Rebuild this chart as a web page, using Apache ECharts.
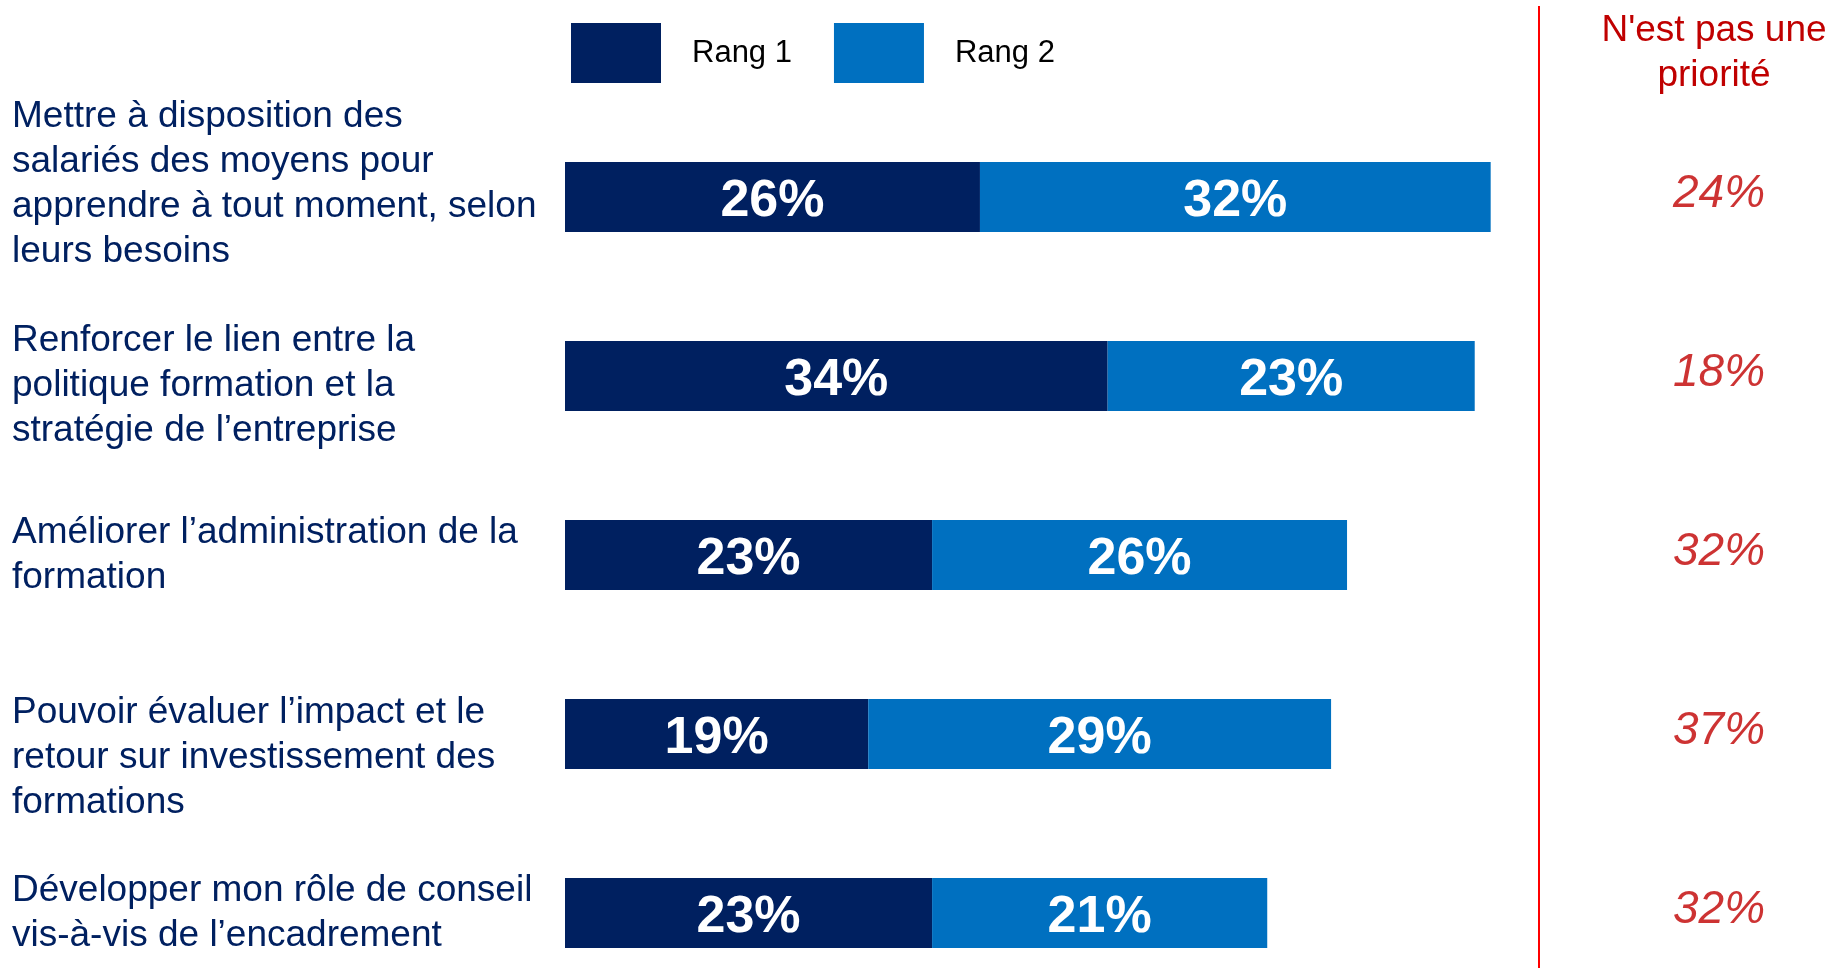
<!DOCTYPE html>
<html>
<head>
<meta charset="utf-8">
<script src="https://cdn.jsdelivr.net/npm/echarts@6/dist/echarts.min.js"></script>
<style>
html,body{margin:0;padding:0;background:#fff;}
#chart{width:1831px;height:968px;}
</style>
</head>
<body>
<div id="chart"></div>
<script>
// ---- data ----
const categories = [
  "Mettre à disposition des\nsalariés des moyens pour\napprendre à tout moment, selon\nleurs besoins",
  "Renforcer le lien entre la\npolitique formation et la\nstratégie de l’entreprise",
  "Améliorer l’administration de la\nformation",
  "Pouvoir évaluer l’impact et le\nretour sur investissement des\nformations",
  "Développer mon rôle de conseil\nvis-à-vis de l’encadrement"
];
const rang1 = [26, 34, 23, 19, 23];
const rang2 = [32, 23, 26, 29, 21];
const notPriority = [24, 18, 32, 37, 32];
const seriesNames = ["Rang 1", "Rang 2"];
const headerText = "N'est pas une\npriorité";

// ---- style ----
const NAVY = '#002060';
const BLUE = '#0070C0';
const RED = '#C00000';
const FONT = '"Liberation Sans", Arial, sans-serif';
// vertical nudge of each category label (spacer line height, + = push down, - = push up)
const labelNudge = [-26, 20, 0, 48, 0];

const chart = echarts.init(document.getElementById('chart'), null, {renderer: 'canvas'});

const gridTop = 107.5, gridH = 895;

function catLabel(value, idx) {
  const lines = value.split('\n').map(l => '{a|' + l + '}');
  const n = labelNudge[idx] || 0;
  if (n > 0) lines.unshift('{s' + n + '| }');
  else if (n < 0) lines.push('{s' + (-n) + '| }');
  return lines.join('\n');
}
const rich = {a: {fontSize: 37, lineHeight: 45, color: NAVY, fontFamily: FONT, align: 'left'}};
labelNudge.forEach(n => { if (n) rich['s' + Math.abs(n)] = {fontSize: 1, lineHeight: Math.abs(n)}; });

const option = {
  animation: false,
  textStyle: {fontFamily: FONT},
  title: {
    text: headerText,
    left: 1709, top: 3,
    textAlign: 'center',
    textStyle: {color: RED, fontSize: 37, lineHeight: 45, fontWeight: 'normal', fontFamily: FONT}
  },
  legend: {
    data: seriesNames,
    left: 571, top: 23,
    icon: 'rect',
    itemWidth: 90, itemHeight: 60,
    itemGap: 42,
    padding: 0,
    textStyle: {fontSize: 31, color: '#000', fontFamily: FONT, padding: [10,0,0,26]}
  },
  grid: [
    {left: 565, top: gridTop, width: 957.6, height: gridH, containLabel: false, outerBoundsMode: 'none'},
    {left: 1600, top: gridTop, width: 238, height: gridH, containLabel: false, outerBoundsMode: 'none'}
  ],
  xAxis: [
    {gridIndex: 0, type: 'value', min: 0, max: 60, show: false},
    {gridIndex: 1, type: 'value', min: 0, max: 1, show: false}
  ],
  yAxis: [
    {
      gridIndex: 0, type: 'category', inverse: true,
      data: categories,
      axisLine: {show: false}, axisTick: {show: false}, splitLine: {show: false},
      axisLabel: {
        interval: 0, hideOverlap: false,
        align: 'left', margin: 553,
        formatter: catLabel,
        rich: rich,
        fontSize: 37, lineHeight: 45, color: NAVY, fontFamily: FONT
      }
    },
    {
      gridIndex: 1, type: 'category', inverse: true, data: categories, show: false
    }
  ],
  graphic: [{
    type: 'line',
    shape: {x1: 1539, y1: 6, x2: 1539, y2: 968},
    style: {stroke: '#FF0000', lineWidth: 2}
  }],
  series: [
    {
      name: seriesNames[0], type: 'bar', stack: 'r', barWidth: 70,
      xAxisIndex: 0, yAxisIndex: 0,
      data: rang1,
      itemStyle: {color: NAVY},
      label: {show: true, position: 'inside', offset: [0, 5], formatter: '{c}%', color: '#fff',
              fontSize: 52, fontWeight: 'bold', fontFamily: FONT}
    },
    {
      name: seriesNames[1], type: 'bar', stack: 'r', barWidth: 70,
      xAxisIndex: 0, yAxisIndex: 0,
      data: rang2,
      itemStyle: {color: BLUE},
      label: {show: true, position: 'inside', offset: [0, 5], formatter: '{c}%', color: '#fff',
              fontSize: 52, fontWeight: 'bold', fontFamily: FONT}
    },
    {
      name: 'np', type: 'scatter', xAxisIndex: 1, yAxisIndex: 1,
      symbolSize: 0, silent: true,
      data: notPriority.map((v, i) => [0.5, i, v]),
      label: {show: true, position: 'inside', offset: [0, -3],
              formatter: p => p.value[2] + '%',
              color: RED, fontSize: 46, fontStyle: 'italic', fontFamily: FONT}
    }
  ]
};
chart.setOption(option);
</script>
</body>
</html>
